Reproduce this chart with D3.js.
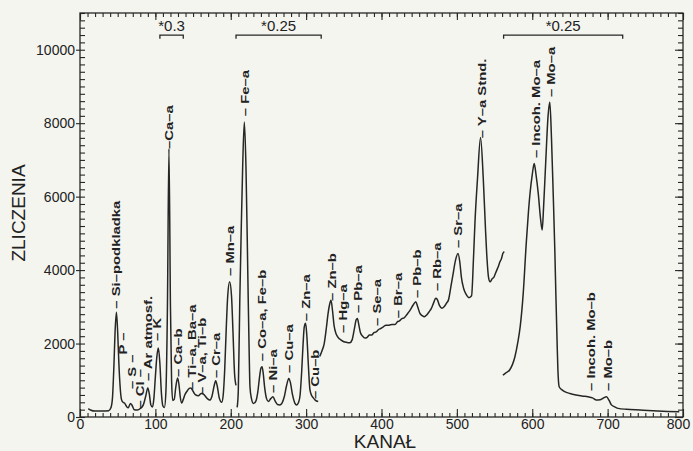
<!DOCTYPE html>
<html>
<head>
<meta charset="utf-8">
<script src="https://cdn.jsdelivr.net/npm/d3@7"></script>
<style>
  body { margin: 0; background: #f5f5f0; }
  svg { display: block; }
  .axis path { display: none; }
  .axis line { stroke: #262626; stroke-width: 1.1; }
  .axis text { font-family: "Liberation Sans", Arial, sans-serif; font-size: 14px; fill: #222; }
  .peak { font-family: "Liberation Sans", Arial, sans-serif; font-size: 11px; font-weight: bold; fill: #222; }
  .title { font-family: "Liberation Sans", Arial, sans-serif; font-size: 19px; fill: #222; }
  .factor { font-family: "Liberation Sans", Arial, sans-serif; font-size: 15px; fill: #222; }
</style>
</head>
<body>
<div id="chart"></div>
<script>
var svgWidth = 693;
var svgHeight = 451;

var margin = { top: 13, right: 10, bottom: 34, left: 80 };
var width = svgWidth - margin.left - margin.right;
var height = svgHeight - margin.top - margin.bottom;

// spectrum pieces [channel, counts] as drawn (scaled parts already scaled)
var spectrumA = [[11,230],[14,190],[20,160],[30,160],[38,170],[41,250],[43,500],[45,1400],[46.5,2300],[48.3,2850],
  [50,2300],[51.5,1500],[53,900],[55,480],[57,400],[59,380],[62,280],[64,250],[67,370],[69,320],[72,200],[76,190],
  [80,230],[84,330],[87,550],[90,790],[92,620],[94,330],[96,270],[98,500],[100,1100],[102,1650],[104,1880],[106,1450],
  [108,650],[110,300],[112,260],[114,700],[116,3000],[118,7300],[120,3000],[121.5,1000],[123,450],[125,480],[127,800],
  [129.5,1060],[131.5,850],[133,550],[135,380],[137,480],[139,600],[142,700],[145,780],[147,790],[150,700],[153,610],
  [157,580],[160,630],[162,650],[165,600],[169,500],[172,460],[175,560],[178,850],[180,990],[182,850],[185,500],
  [188,400],[190,600],[192,1300],[194,2400],[196,3300],[198.5,3680],[201,3300],[203,2300],[205,1200],[207,860]];

var spectrumB = [[208.5,260],[210,700],[212,3180],[214,5200],[215.8,6800],[218,8030],[220.2,6800],[222,4700],
  [223.2,3180],[224.5,1700],[225.5,825],[227.5,500],[230,370],[233,420],[236,700],[238,1050],[240,1330],[241.5,1370],
  [243,1200],[245,800],[247.5,500],[250,420],[253,500],[256,550],[259,430],[262,340],[265,330],[268,380],[271,550],
  [274,850],[277,1050],[279,950],[282,600],[285,380],[287.5,330],[290,400],[292,600],[294,1200],[296,2000],
  [297.5,2450],[299.3,2550],[301,2200],[303,1400],[305,750],[307,600],[309.5,520],[312,460],[316,420]];

var spectrumC = [[318,1650],[321,1800],[324,2000],[327,2450],[329,2800],[331,3050],[333,3180],[335,2900],[337,2500],
  [340,2250],[343,2150],[346,2100],[350,2050],[354,2030],[358,2020],[361,2100],[364,2400],[366.5,2650],[368,2680],
  [370,2500],[372,2300],[375,2200],[378,2150],[381,2170],[384,2230],[387,2230],[390,2300],[393,2320],[396,2380],
  [399,2410],[402,2450],[406,2500],[410,2500],[414,2520],[418,2520],[421,2590],[424,2620],[427,2680],[430,2700],
  [434,2800],[438,2910],[442,3050],[445.5,3140],[448,3000],[451,2820],[454,2760],[457,2730],[460,2780],[463,2860],
  [466,2950],[469,3100],[472,3230],[474,3200],[477,3030],[480,2960],[483,3000],[486,3090],[489,3200],[492,3540],
  [495,3900],[498,4250],[501.5,4450],[504,4200],[506,3800],[509,3500],[512,3350],[516,3250],[519.5,3300],
  [522,4300],[524,5300],[527.4,6500],[531.4,7610],[535,6500],[538,5100],[540,4300],[542,3800],[544,3680],
  [547,3770],[549,3800],[551,3900],[553,4000],[555,4100],[557,4220],[559,4300],[561,4450],[563,4500]];

var spectrumD = [[561,1140],[565,1200],[570,1280],[577,1640],[581,2050],[584,2460],[588,3360],[592,4720],[595,5600],
  [597,6080],[600,6600],[602.6,6900],[605,6600],[608,6080],[611,5400],[613.2,5090],[615,5700],[618,7000],[621,8200],
  [623.3,8580],[625.5,7600],[627.8,6080],[630,4500],[631.3,3360],[633,2000],[634,1300],[635.7,825],[640,730],
  [643,690],[650,640],[658,600],[666,570],[674,550],[680,520],[685,460],[690,470],[694,510],[698.5,550],[702,450],
  [705,330],[710,270],[714,235],[725,210],[743,190],[760,170],[780,150],[795,140]];

var segments = [spectrumA, spectrumB, spectrumC, spectrumD];

// peak labels: text, channel, counts where the text starts
var peakLabels = [
  ["– Si–podkladka", 47.7, 2950], ["P –", 56.6, 1700], ["– S –", 68.6, 760], ["– Cl –", 79.6, 230],
  ["– Ar atmosf.", 90.2, 980], ["– K", 102, 2070], ["–Ca–a", 117.5, 7300], ["– Ca–b", 129.6, 1090],
  ["– Ti–a, Ba–a", 148, 735], ["– V–a, Ti–b", 161.4, 600], ["– Cr–a", 180.4, 1060], ["– Mn–a", 199, 3840],
  ["– Fe–a", 218.8, 8190], ["– Co–a, Fe–b", 241, 1520], ["– Ni–a", 256.4, 655], ["– Cu–a", 277.6, 1200],
  ["– Zn–a", 299.3, 2610], ["– Cu–b", 311.7, 490], ["– Zn–b", 334.6, 3160], ["– Hg–a", 348.4, 2290],
  ["– Pb–a", 369, 2830], ["– Se–a", 393.5, 2480], ["– Br–a", 421.4, 2690], ["– Pb–b", 446.6, 3240],
  ["– Rb–a", 473.9, 3430], ["– Sr–a", 501.7, 4600], ["– Y–a Stnd.", 532.8, 7590], ["– Incoh. Mo–a", 604.8, 7050],
  ["– Mo–a", 624.3, 8710], ["– Incoh. Mo–b", 678.6, 710], ["– Mo–b", 700.7, 710]
];

// scaled ranges shown with brackets
var bracketStart = [106, 207, 562];
var bracketEnd = [137, 320, 720];
var bracketText = ["*0.3", "*0.25", "*0.25"];

var xTicks = [0, 100, 200, 300, 400, 500, 600, 700, 800];
var yTicks = [0, 2000, 4000, 6000, 8000, 10000];

var svg = d3.select("#chart")
  .append("svg")
  .attr("width", svgWidth)
  .attr("height", svgHeight);

var chartGroup = svg.append("g")
  .attr("transform", `translate(${margin.left}, ${margin.top})`);

var xScale = d3.scaleLinear().domain([0, 800]).range([0, width]);
var yScale = d3.scaleLinear().domain([0, 11000]).range([height, 0]);

var minorX = d3.range(0, 801, 10);
var minorY = d3.range(0, 11001, 200);

// bottom
chartGroup.append("g").attr("class", "axis")
  .attr("transform", `translate(0,${height})`)
  .call(d3.axisBottom(xScale).tickValues(minorX).tickSize(-4).tickFormat(""));
var xAxisG = chartGroup.append("g").attr("class", "axis")
  .attr("transform", `translate(0,${height})`)
  .call(d3.axisBottom(xScale).tickValues(xTicks).tickSize(-8).tickPadding(2).tickFormat(d3.format("d")));
// keep the last label inside the page
xAxisG.selectAll("text").filter(d => d === 800).attr("dx", "-5");
// top
chartGroup.append("g").attr("class", "axis")
  .call(d3.axisTop(xScale).tickValues(minorX).tickSize(-4).tickFormat(""));
chartGroup.append("g").attr("class", "axis")
  .call(d3.axisTop(xScale).tickValues(xTicks).tickSize(-7).tickFormat(""));
// left
chartGroup.append("g").attr("class", "axis")
  .call(d3.axisLeft(yScale).tickValues(minorY).tickSize(-5).tickFormat(""));
chartGroup.append("g").attr("class", "axis")
  .call(d3.axisLeft(yScale).tickValues(yTicks).tickSize(4).tickPadding(1).tickFormat(d3.format("d")));
// right
chartGroup.append("g").attr("class", "axis")
  .attr("transform", `translate(${width},0)`)
  .call(d3.axisRight(yScale).tickValues(minorY).tickSize(-5).tickFormat(""));
chartGroup.append("g").attr("class", "axis")
  .attr("transform", `translate(${width},0)`)
  .call(d3.axisRight(yScale).tickValues(yTicks).tickSize(-8).tickFormat(""));

chartGroup.append("rect")
  .attr("width", width).attr("height", height)
  .attr("fill", "none").attr("stroke", "#262626").attr("stroke-width", 1.3);

var line = d3.line()
  .x(d => xScale(d[0]))
  .y(d => yScale(d[1]))
  .curve(d3.curveMonotoneX);

chartGroup.selectAll(".spec")
  .data(segments)
  .enter()
  .append("path")
  .attr("class", "spec")
  .attr("d", line)
  .attr("fill", "none")
  .attr("stroke", "#262626")
  .attr("stroke-width", 1.5)
  .attr("stroke-linejoin", "round");

chartGroup.selectAll(".peak")
  .data(peakLabels)
  .enter()
  .append("text")
  .attr("class", "peak")
  .attr("transform", d => `translate(${xScale(d[1])},${yScale(d[2])}) rotate(-90) scale(1.35,1)`)
  .attr("dy", "0.36em")
  .text(d => d[0]);

// brackets for scaled ranges
bracketText.forEach(function(t, i) {
  var x0 = xScale(bracketStart[i]), x1 = xScale(bracketEnd[i]);
  var yb = yScale(10400), yt = yScale(10300);
  chartGroup.append("path")
    .attr("d", `M${x0},${yt}V${yb}H${x1}V${yt}`)
    .attr("fill", "none").attr("stroke", "#262626").attr("stroke-width", 1.3);
  chartGroup.append("text")
    .attr("class", "factor")
    .attr("x", (x0 + x1) / 2)
    .attr("y", yScale(10520))
    .attr("text-anchor", "middle")
    .text(t);
});

// axis titles
chartGroup.append("text")
  .attr("class", "title")
  .attr("transform", `translate(${385 - margin.left}, ${height + 31})`)
  .attr("text-anchor", "middle")
  .text("KANAŁ");

chartGroup.append("text")
  .attr("class", "title")
  .attr("transform", `translate(${25 - margin.left}, ${213 - margin.top}) rotate(-90)`)
  .attr("text-anchor", "middle")
  .text("ZLICZENIA");
</script>
</body>
</html>
